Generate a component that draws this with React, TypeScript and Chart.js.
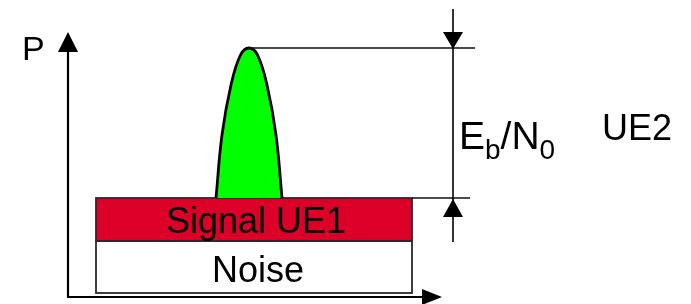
import React, { useEffect, useRef } from "react";
import { Chart, registerables } from "chart.js";

Chart.register(...registerables);

// Diagram values (abstract units: x = frequency, y = power; origin at axis crossing)
const axisRange = { xMin: -68, xMax: 623, yMin: -7, yMax: 297 };
const axisTips = { x: 374, y: 265 };
const bandX = [28, 344];
const noiseLevels = [4, 56];
const signalLevels = [56, 99];
const peakX = [148, 154, 163, 172.5, 181, 189.5, 199, 208, 214];
const peakY = [99, 162, 212, 242, 249, 242, 212, 162, 99];
const peakTop = 249;
const ebArrowX = 385;
const ebArrowSpan = [55, 288];
const topGuideX = [181, 407];
const bottomGuideX = [344, 402];
const labels = {
  p: "P",
  signal: "Signal UE1",
  noise: "Noise",
  ue2: "UE2",
};
const labelPos = {
  p: [-46, 237],
  signal: [188, 64],
  noise: [190, 15],
  ue2: [534, 157],
  eb: [391, 148],
};

const FONT = "'Liberation Sans', Arial, sans-serif";

const diagramPlugin = {
  id: "diagram",
  beforeDatasetsDraw(chart: any) {
    const { ctx, scales } = chart;
    const X = (v: number) => scales.x.getPixelForValue(v);
    const Y = (v: number) => scales.y.getPixelForValue(v);
    ctx.save();
    const x0 = X(bandX[0]);
    const x1 = X(bandX[1]);
    ctx.fillStyle = "#ffffff";
    ctx.fillRect(x0, Y(noiseLevels[1]), x1 - x0, Y(noiseLevels[0]) - Y(noiseLevels[1]));
    ctx.fillStyle = "#dc0028";
    ctx.fillRect(x0, Y(signalLevels[1]), x1 - x0, Y(signalLevels[0]) - Y(signalLevels[1]));
    ctx.lineWidth = 1.8;
    ctx.strokeStyle = "#2a2a2a";
    ctx.strokeRect(x0, Y(noiseLevels[1]), x1 - x0, Y(noiseLevels[0]) - Y(noiseLevels[1]));
    ctx.strokeRect(x0, Y(signalLevels[1]), x1 - x0, Y(signalLevels[0]) - Y(signalLevels[1]));
    ctx.restore();
  },
  afterDatasetsDraw(chart: any) {
    const { ctx, scales } = chart;
    const X = (v: number) => scales.x.getPixelForValue(v);
    const Y = (v: number) => scales.y.getPixelForValue(v);
    ctx.save();
    ctx.strokeStyle = "#000";
    ctx.fillStyle = "#000";
    // axes
    ctx.lineWidth = 2.2;
    ctx.beginPath();
    ctx.moveTo(X(0), Y(0));
    ctx.lineTo(X(0), Y(axisTips.y) + 12);
    ctx.moveTo(X(0) - 1, Y(0));
    ctx.lineTo(X(axisTips.x) - 12, Y(0));
    ctx.stroke();
    ctx.beginPath();
    ctx.moveTo(X(0), Y(axisTips.y));
    ctx.lineTo(X(0) - 10, Y(axisTips.y) + 20);
    ctx.lineTo(X(0) + 10, Y(axisTips.y) + 20);
    ctx.closePath();
    ctx.fill();
    ctx.beginPath();
    ctx.moveTo(X(axisTips.x), Y(0));
    ctx.lineTo(X(axisTips.x) - 20, Y(0) - 8);
    ctx.lineTo(X(axisTips.x) - 20, Y(0) + 8);
    ctx.closePath();
    ctx.fill();

    // guide lines
    ctx.lineWidth = 1.3;
    ctx.strokeStyle = "#111";
    ctx.beginPath();
    ctx.moveTo(X(topGuideX[0]), Y(peakTop));
    ctx.lineTo(X(topGuideX[1]), Y(peakTop));
    ctx.moveTo(X(bottomGuideX[0]), Y(signalLevels[1]));
    ctx.lineTo(X(bottomGuideX[1]), Y(signalLevels[1]));
    ctx.stroke();
    // Eb/N0 vertical line
    ctx.lineWidth = 1.6;
    ctx.strokeStyle = "#000";
    ctx.beginPath();
    ctx.moveTo(X(ebArrowX), Y(ebArrowSpan[1]));
    ctx.lineTo(X(ebArrowX), Y(ebArrowSpan[0]));
    ctx.stroke();
    const tipTop = Y(peakTop) + 1;
    ctx.beginPath();
    ctx.moveTo(X(ebArrowX), tipTop);
    ctx.lineTo(X(ebArrowX) - 10, tipTop - 17);
    ctx.lineTo(X(ebArrowX) + 10, tipTop - 17);
    ctx.closePath();
    ctx.fill();
    const tipBot = Y(signalLevels[1]) + 1;
    ctx.beginPath();
    ctx.moveTo(X(ebArrowX), tipBot);
    ctx.lineTo(X(ebArrowX) - 10, tipBot + 18);
    ctx.lineTo(X(ebArrowX) + 10, tipBot + 18);
    ctx.closePath();
    ctx.fill();

    // texts
    ctx.textBaseline = "alphabetic";
    ctx.fillStyle = "#000";
    ctx.textAlign = "left";
    ctx.font = `34px ${FONT}`;
    ctx.fillText(labels.p, X(labelPos.p[0]), Y(labelPos.p[1]));
    ctx.font = `36px ${FONT}`;
    ctx.fillText(labels.ue2, X(labelPos.ue2[0]), Y(labelPos.ue2[1]));
    ctx.textAlign = "center";
    ctx.fillText(labels.signal, X(labelPos.signal[0]), Y(labelPos.signal[1]));
    ctx.fillText(labels.noise, X(labelPos.noise[0]), Y(labelPos.noise[1]));
    ctx.textAlign = "left";
    let cx = X(labelPos.eb[0]);
    const by = Y(labelPos.eb[1]);
    const parts: [string, boolean][] = [
      ["E", false],
      ["b", true],
      ["/", false],
      ["N", false],
      ["0", true],
    ];
    for (const [t, sub] of parts) {
      ctx.font = sub ? `28px ${FONT}` : `39px ${FONT}`;
      ctx.fillText(t, cx, sub ? by + 10 : by);
      cx += ctx.measureText(t).width;
    }
    ctx.restore();
  },
};

export default function App() {
  const ref = useRef<HTMLCanvasElement | null>(null);
  useEffect(() => {
    if (!ref.current) return;
    const chart = new Chart(ref.current, {
      type: "scatter",
      data: {
        datasets: [
          {
            label: "UE2",
            data: peakX.map((x, i) => ({ x, y: peakY[i] })),
            showLine: true,
            tension: 0.4,
            borderColor: "#000",
            borderWidth: 2.8,
            borderJoinStyle: "round",
            backgroundColor: "#00ff00",
            fill: { value: signalLevels[1] },
            pointRadius: 0,
          } as any,
        ],
      },
      options: {
        responsive: false,
        animation: false,
        layout: { padding: 0 },
        plugins: { legend: { display: false }, tooltip: { enabled: false } },
        events: [],
        scales: {
          x: { type: "linear", min: axisRange.xMin, max: axisRange.xMax, display: false },
          y: { type: "linear", min: axisRange.yMin, max: axisRange.yMax, display: false },
        },
      },
      plugins: [diagramPlugin],
    });
    return () => chart.destroy();
  }, []);
  return (
    <div style={{ position: "fixed", left: 0, top: 0, width: 691, height: 304, background: "#fff" }}>
      <canvas ref={ref} width={691} height={304} />
    </div>
  );
}
